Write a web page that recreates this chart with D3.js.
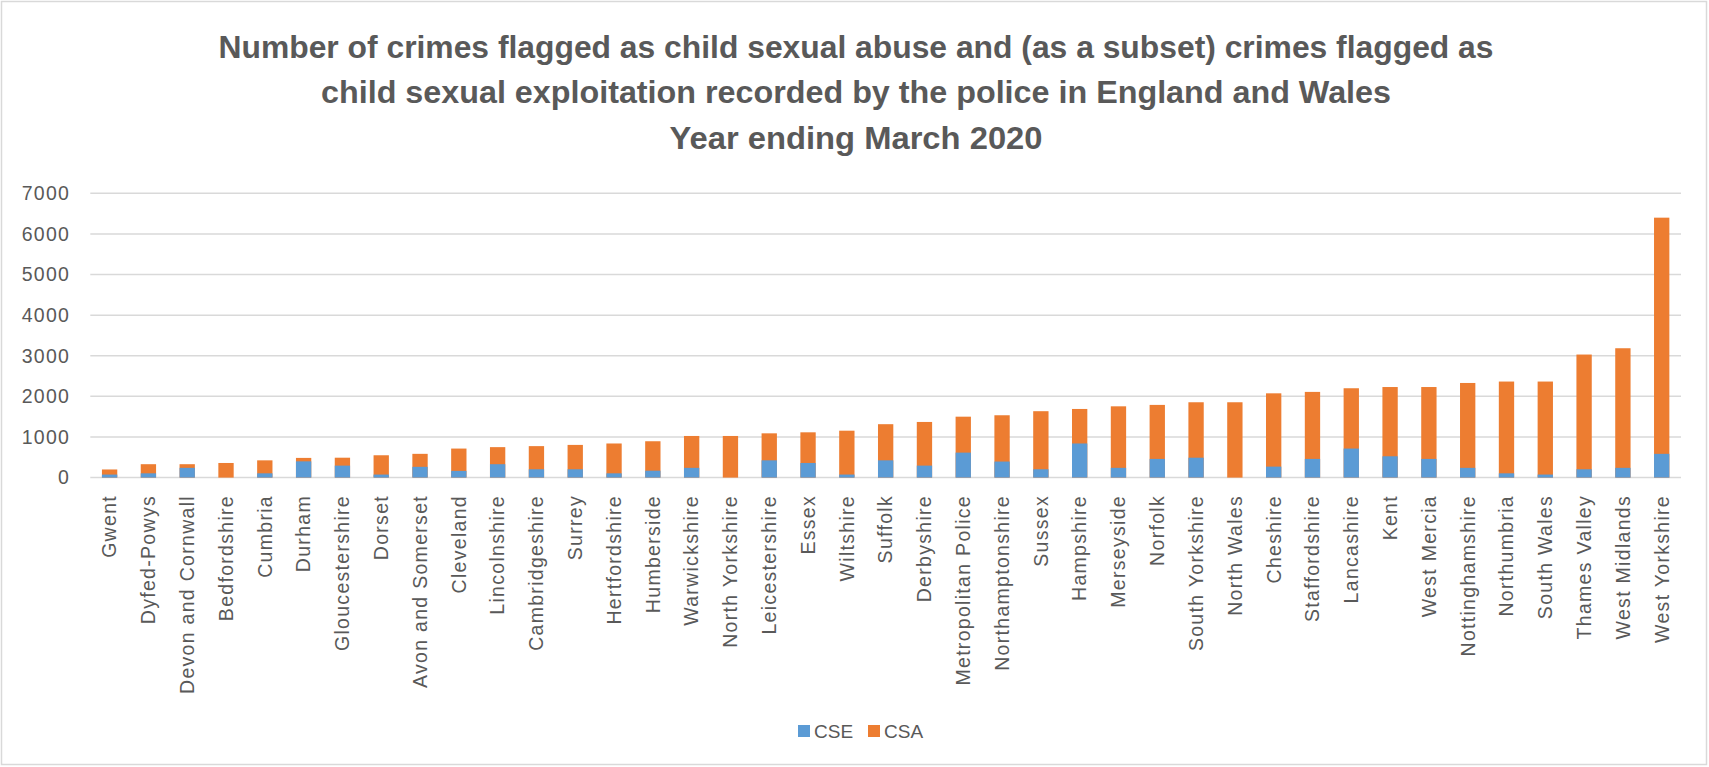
<!DOCTYPE html>
<html>
<head>
<meta charset="utf-8">
<script src="https://cdn.jsdelivr.net/npm/d3@7"></script>
<style>
  html, body { margin: 0; padding: 0; background: #fff; }
  svg { display: block; }
  text { font-family: "Liberation Sans", Arial, sans-serif; fill: #595959; }
</style>
</head>
<body>
<svg id="chart"></svg>
<script>
const width = 1709;
const height = 767;

// police force areas, sorted by CSA total
const forces = ["Gwent","Dyfed-Powys","Devon and Cornwall","Bedfordshire","Cumbria","Durham",
  "Gloucestershire","Dorset","Avon and Somerset","Cleveland","Lincolnshire","Cambridgeshire",
  "Surrey","Hertfordshire","Humberside","Warwickshire","North Yorkshire","Leicestershire","Essex",
  "Wiltshire","Suffolk","Derbyshire","Metropolitan Police","Northamptonshire","Sussex","Hampshire",
  "Merseyside","Norfolk","South Yorkshire","North Wales","Cheshire","Staffordshire","Lancashire",
  "Kent","West Mercia","Nottinghamshire","Northumbria","South Wales","Thames Valley",
  "West Midlands","West Yorkshire"];
const csa = [200,330,330,360,425,485,490,550,585,715,750,775,805,840,895,1025,1025,1090,1115,
  1155,1315,1370,1500,1535,1635,1690,1755,1790,1855,1855,2075,2110,2200,2230,2230,2330,2365,
  2365,3030,3185,6400];
const cse = [75,105,240,0,105,400,295,75,265,165,330,205,205,105,170,240,0,425,360,75,425,295,
  615,395,205,840,240,460,490,0,270,460,715,525,460,240,105,75,205,240,585];
const yTicks = [0,1000,2000,3000,4000,5000,6000,7000];
const titleLines = [
  "Number of crimes flagged as child sexual abuse and (as a subset) crimes flagged as",
  "child sexual exploitation recorded by the police in England and Wales",
  "Year ending March 2020"
];
const titleWidths = [1275, 1070, 373];

const colCSE = "#5B9BD5", colCSA = "#ED7D31";

const svg = d3.select("#chart").attr("width", width).attr("height", height);

// chart border
svg.append("rect").attr("x", 1.5).attr("y", 1.5).attr("width", width - 4).attr("height", height - 4)
  .attr("fill", "#fff").attr("stroke", "#d9d9d9").attr("stroke-width", 1.5);

// title
svg.append("g").selectAll("text").data(titleLines).enter().append("text")
  .attr("x", 856).attr("y", (d, i) => 58 + i * 45.3)
  .attr("text-anchor", "middle")
  .attr("textLength", (d, i) => titleWidths[i])
  .attr("lengthAdjust", "spacingAndGlyphs")
  .style("font-size", "31px").style("font-weight", "bold")
  .text(d => d);

const x = d3.scaleBand().domain(forces).range([90.3, 1681]).paddingInner(0.605).paddingOuter(0.3);
const y = d3.scaleLinear().domain([0, 7000]).range([477.6, 193.3]);

// gridlines
svg.append("g").selectAll("line").data(yTicks).enter().append("line")
  .attr("x1", 90.3).attr("x2", 1681)
  .attr("y1", d => y(d)).attr("y2", d => y(d))
  .attr("stroke", "#d9d9d9").attr("stroke-width", 1.5);

// y labels
const yAxis = d3.axisLeft(y).tickValues(yTicks).tickSize(0).tickPadding(0).tickFormat(d3.format("d"));
const gy = svg.append("g").attr("transform", "translate(70,0)").call(yAxis);
gy.select(".domain").remove();
gy.selectAll("text").style("font-size", "19.5px").style("letter-spacing", "1.2px")
  .attr("fill", "#595959").style("font-family", "\"Liberation Sans\", Arial, sans-serif");

// bars: CSA full height, CSE (subset) drawn in front
const bars = svg.append("g");
bars.selectAll("rect.csa").data(forces).enter().append("rect").attr("class", "csa")
  .attr("x", d => x(d)).attr("width", x.bandwidth())
  .attr("y", (d, i) => y(csa[i])).attr("height", (d, i) => y(0) - y(csa[i]))
  .attr("fill", colCSA);
bars.selectAll("rect.cse").data(forces).enter().append("rect").attr("class", "cse")
  .attr("x", d => x(d)).attr("width", x.bandwidth())
  .attr("y", (d, i) => y(cse[i])).attr("height", (d, i) => y(0) - y(cse[i]))
  .attr("fill", colCSE);

// x labels
svg.append("g").selectAll("text").data(forces).enter().append("text")
  .attr("transform", d => `translate(${x(d) + x.bandwidth() / 2},495) rotate(-90)`)
  .attr("text-anchor", "end").attr("dy", "0.35em")
  .style("font-size", "19.5px").style("letter-spacing", "1.3px")
  .text(d => d);

// legend
const legend = svg.append("g");
const legItems = [["CSE", colCSE, 798], ["CSA", colCSA, 868]];
legItems.forEach(([name, col, lx]) => {
  legend.append("rect").attr("x", lx).attr("y", 725).attr("width", 12).attr("height", 12).attr("fill", col);
  legend.append("text").attr("x", lx + 16).attr("y", 738).style("font-size", "19px").text(name);
});
</script>
</body>
</html>
